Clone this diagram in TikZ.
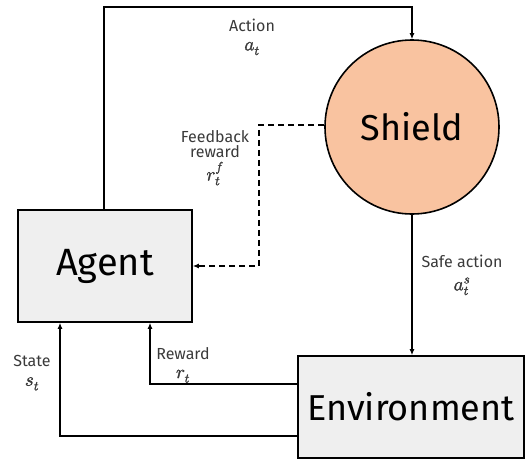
\documentclass[tikz,border=0pt]{standalone}
\usepackage{fontspec}
\usepackage{unicode-math}
\setmainfont{Fira Sans}
\setmathfont{Latin Modern Math}[FakeBold=1.6]
\usetikzlibrary{arrows.meta}
\definecolor{boxgray}{HTML}{EFEFEF}
\definecolor{peach}{HTML}{F9C3A0}
\definecolor{labgray}{HTML}{3A3A3A}
\newcommand\mm[1]{{\fontsize{19}{19}\selectfont$#1$}}
\begin{document}
\begin{tikzpicture}[x=1pt,y=-1pt,
  blockbox/.style={draw=black,line width=1.6pt,fill=boxgray,inner sep=0pt},
  conn/.style={line width=1.6pt,-{Latex[length=6pt,width=5pt]}},
  lab/.style={font=\fontsize{16}{18}\selectfont,text=labgray,align=center,inner sep=1pt}]
\useasboundingbox (0,0) rectangle (528,464);
\node[blockbox,minimum width=174pt,minimum height=112pt,font=\fontsize{38}{44}\selectfont] (agent) at (105,266) {Agent};
\node[draw=black,line width=1.6pt,fill=peach,circle,minimum size=174pt,inner sep=0pt,font=\fontsize{36}{42}\selectfont] (shield) at (412,127) {Shield};
\node[blockbox,minimum width=226pt,minimum height=102pt,font=\fontsize{36}{42}\selectfont] (env) at (411,407) {Environment};
\coordinate (c1) at (104,7);
\coordinate (c2) at (412,7);
\draw[conn] (agent.north -| c1) -- (c1) -- (c2) -- (shield.north);
\node[lab] (lact) at (252,37) {Action\\[1pt]\mm{a_t}};
\coordinate (f1) at (259,125);
\coordinate (f2) at (259,266);
\draw[conn,dashed,dash pattern=on 6pt off 4pt] (shield.west |- f1) -- (f1) -- (f2) -- (agent.east |- f2);
\node[lab] (lfb) at (215,158) {Feedback\\[-3pt]reward\\[3pt]\mm{r_t^f}};
\draw[conn] (shield.south) -- (env.north -| shield.south);
\node[lab] (lsafe) at (462,275) {Safe action\\[5pt]\mm{a_t^s}};
\coordinate (r1) at (150,384);
\coordinate (s1) at (60,436);
\draw[conn] (env.west |- r1) -- (r1) -- (agent.south -| r1);
\draw[conn] (env.west |- s1) -- (s1) -- (agent.south -| s1);
\node[lab] (lrew) at (183,365) {Reward\\[1pt]\mm{r_t}};
\node[lab] (lstate) at (32,373) {State\\[1pt]\mm{s_t}};
\end{tikzpicture}
\end{document}
